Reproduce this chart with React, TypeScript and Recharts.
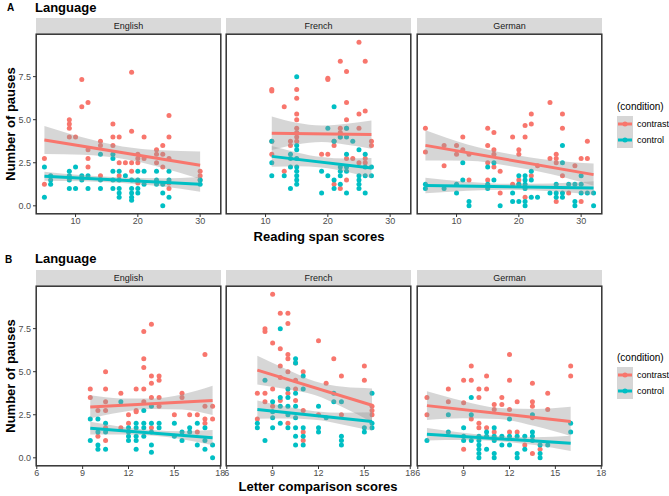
import React from "react"
import { ComposedChart, Scatter, Area, Line, XAxis, YAxis } from "recharts"

const RED = "#F8766D"
const TEAL = "#00BFC4"

type Pt = [number, number]

// ---- Row A: reading span scores ----
const engAContrast: Pt[] = [
  [5, 2.75], [5, 1.25], [9, 5], [9, 4.75], [9, 4.5], [9, 4], [10, 4], [11, 7.33], [11, 5.75], [12, 6],
  [12, 3.25], [12, 2.75], [12, 2.25], [14, 3.75], [14, 3.5], [14, 1.75], [16, 4.75], [16, 4], [16, 3.5], [17, 4],
  [17, 2.5], [17, 1.75], [18, 2.5], [19, 7.75], [19, 4.33], [19, 2.5], [19, 2], [20, 3], [20, 2.75], [20, 2.5],
  [20, 1.33], [21, 4], [21, 2.75], [23, 3.25], [23, 3], [23, 2.5], [24, 3.5], [24, 3], [24, 2.25], [25, 5.25],
  [25, 4], [25, 2.75], [25, 1.33], [25, 1], [30, 2], [30, 1.75], [30, 1.5],
]
const engAControl: Pt[] = [
  [5, 2.25], [5, 0.5], [6, 1.75], [6, 1.5], [6, 1.25], [9, 2], [9, 1.75], [9, 1.5], [9, 1], [10, 2.25],
  [10, 1], [11, 1.75], [11, 1.5], [12, 1.75], [12, 1], [14, 3], [14, 1.5], [14, 1], [16, 3], [16, 2.75],
  [16, 2], [16, 1.5], [16, 1], [17, 2], [17, 1.5], [17, 1], [17, 0.75], [17, 0.5], [18, 1.75], [19, 1.5],
  [19, 1], [19, 0.75], [19, 0.5], [19, 0.33], [20, 2], [20, 1.5], [20, 1], [20, 0.75], [21, 2], [21, 1.25],
  [23, 2], [23, 1.5], [23, 1.25], [24, 1.25], [24, 0.75], [24, 0], [25, 2], [25, 1.5], [25, 0.5], [30, 1.5],
  [30, 1.25],
]
const frAContrast: Pt[] = [
  [11, 6.75], [11, 6.67], [11, 3.75], [11, 3], [13, 5.75], [13, 2], [14, 3.75], [14, 3.5], [15, 6.75], [15, 6.25],
  [15, 5.33], [15, 5], [15, 4.5], [15, 4.25], [15, 4], [15, 3.75], [19, 3], [20, 7.4], [20, 7.33], [20, 3],
  [21, 3.75], [21, 3.5], [21, 1.25], [22, 8.4], [22, 4.5], [22, 4.25], [22, 4], [22, 1], [23, 7.8], [23, 6],
  [23, 5], [23, 4.5], [23, 2.75], [23, 1.5], [24, 2.75], [25, 9.5], [25, 5.33], [25, 4.5], [25, 2.5], [26, 8.4],
  [26, 5.5], [26, 2.75], [26, 2.5], [27, 3.75], [27, 3.5],
]
const frAControl: Pt[] = [
  [11, 3.75], [11, 2.5], [11, 1.75], [13, 1.75], [14, 3], [14, 2.75], [14, 2.25], [14, 1], [15, 7.5], [15, 3.5],
  [15, 3.25], [15, 2.75], [15, 2.25], [15, 2], [15, 1.75], [15, 1.5], [15, 1.25], [19, 2], [19, 0.75], [20, 4.5],
  [20, 1.75], [21, 5.75], [21, 3.75], [21, 1.5], [21, 1], [22, 4], [22, 2.25], [22, 2], [22, 1.75], [22, 1.25],
  [23, 4.5], [23, 4], [23, 3], [23, 2.25], [23, 2], [23, 0.75], [24, 3.75], [25, 3.25], [25, 1.75], [25, 1.5],
  [25, 1.25], [25, 1], [26, 3], [26, 2.25], [26, 1.75], [26, 0.75], [27, 2.25], [27, 1.75],
]
const deAContrast: Pt[] = [
  [5, 4.5], [5, 3.12], [8, 3.5], [8, 2.33], [10, 3.5], [10, 3], [11, 4], [11, 3.25], [12, 3], [12, 1.5],
  [15, 4.5], [15, 3.5], [15, 2.5], [15, 1.5], [16, 4.25], [16, 3.25], [16, 3], [16, 2.25], [17, 2], [17, 0.75],
  [19, 4], [19, 1.25], [20, 3.25], [20, 3], [20, 1.5], [20, 1.25], [21, 4.67], [21, 4], [21, 0.5], [22, 5.33],
  [22, 4.75], [22, 1.75], [23, 2.33], [25, 6], [25, 2.75], [26, 3], [26, 2.75], [26, 2.5], [26, 0.25], [27, 5.33],
  [27, 4.5], [27, 1.75], [28, 0.75], [29, 2.33], [30, 2.75], [30, 0.25], [31, 3.75], [31, 2.75],
]
const deAControl: Pt[] = [
  [5, 1.25], [5, 1], [8, 1], [10, 1.25], [10, 0.75], [11, 2.5], [11, 1.5], [12, 0.25], [12, 0], [15, 2.25],
  [15, 1.25], [15, 1], [16, 2.5], [16, 1.5], [17, 0], [19, 0.75], [19, 0.25], [20, 1.75], [20, 1.25], [20, 0.25],
  [21, 1.75], [21, 1.5], [21, 1.25], [21, 1], [21, 0.25], [21, 0], [22, 2], [22, 1.5], [22, 0.5], [23, 0.5],
  [25, 0.75], [26, 1.25], [26, 0.75], [26, 0.5], [27, 3.5], [27, 2.5], [27, 0.75], [27, 0.5], [28, 1.25], [29, 1.25],
  [29, 0.25], [29, 0], [30, 1.75], [30, 1.25], [30, 0.75], [31, 0.75], [32, 0.75], [32, 0],
]

// ---- Row B: letter comparison scores ----
const engBContrast: Pt[] = [
  [9.5, 4], [9.5, 3.5], [10, 2.75], [10, 1.25], [10.5, 5], [10.5, 4], [10.5, 3.25], [10.5, 2.75], [10.5, 1.75], [10.5, 1],
  [11.5, 3.75], [11.5, 1.75], [12, 2.5], [12, 2], [12.5, 4], [12.5, 2.75], [12.5, 2.67], [13, 7.33], [13, 5.75], [13, 5.25],
  [13, 4], [13, 3.25], [13.5, 7.75], [13.5, 4.75], [13.5, 4.33], [13.5, 3.5], [13.5, 1.75], [14, 4.75], [14, 4.5], [14, 3.5],
  [14, 3], [15, 2.5], [15.5, 3.75], [15.5, 3.5], [16, 2.5], [16.5, 2.5], [16.5, 1.5], [17, 6], [17, 3], [17, 2.25],
  [17, 2], [17.5, 3], [17.5, 2.25],
]
const engBControl: Pt[] = [
  [9.5, 2.25], [9.5, 1], [10, 2.25], [10, 1.5], [10, 0.75], [10, 0.5], [10.5, 2], [10.5, 1.5], [10.5, 0.5], [11.5, 3.25],
  [12, 1.75], [12, 1.5], [12, 1.25], [12, 1], [12.5, 2], [12.5, 1.75], [12.5, 1.25], [12.5, 1], [12.5, 0.5], [13, 2.75],
  [13, 2], [13, 1.75], [13, 1.25], [13.5, 3], [13.5, 2], [13.5, 1.5], [13.5, 0.75], [13.5, 0.33], [14, 2], [14, 1.75],
  [15, 2], [15, 1.25], [15.5, 1.5], [15.5, 1], [16, 1.75], [16, 1.5], [16.5, 2], [16.5, 0.75], [17, 1.75], [17, 1],
  [17, 0.5], [17.5, 0.75], [17.5, 0],
]
const frBContrast: Pt[] = [
  [8, 3.75], [8, 2.25], [8.5, 7.5], [8.5, 7.33], [8.5, 3.75], [8.5, 3.25], [9, 9.5], [9, 6.67], [9, 4], [9, 3],
  [9.5, 8.4], [9.5, 6.33], [9.5, 5.33], [9.5, 4.67], [9.5, 3.33], [10, 8.4], [10, 7.8], [10, 6], [10, 5.75], [10, 5],
  [10, 3.75], [10, 2], [10.5, 5.5], [10.5, 4.5], [10.5, 4], [10.5, 3.33], [11, 5], [11, 2.75], [11, 1.5], [11, 1],
  [12, 6.8], [12, 2.5], [12.5, 4.33], [13, 5.75], [13.5, 4.75], [13.5, 2.5], [15, 5.33], [15, 4.5], [15.5, 3], [15.5, 2.75],
  [15.5, 2.5],
]
const frBControl: Pt[] = [
  [8, 2], [8, 1.75], [8.5, 4.5], [8.5, 1], [9, 3.25], [9, 2.67], [9, 2.33], [9, 1.75], [9.5, 7.5], [9.5, 3.5],
  [9.5, 3], [9.5, 2], [10, 4], [10, 3.5], [10, 3], [10, 2.5], [10, 1.75], [10.5, 5.75], [10.5, 5.5], [10.5, 3.75],
  [10.5, 3], [10.5, 2.33], [10.5, 1.75], [10.5, 1.25], [10.5, 0.75], [11, 4.75], [11, 4], [11, 1.75], [11, 1.25], [11, 0.75],
  [12, 3], [12, 1.75], [12, 1.5], [12.5, 2.33], [13, 3.75], [13, 3.25], [13.5, 3.25], [13.5, 1.25], [13.5, 1], [13.5, 0.75],
  [15, 1.75], [15, 1.5], [15.5, 3.75], [15.5, 2], [15.5, 1.75],
]
const deBContrast: Pt[] = [
  [6.6, 3.5], [6.6, 2.5], [8, 4], [8, 3.25], [9, 4.5], [9, 3.2], [9, 0.5], [9.5, 5.33], [9.5, 4.5], [9.5, 2.25],
  [10, 4], [10, 3.5], [10, 2], [10, 1.75], [10.5, 4.75], [10.5, 4], [10.5, 1.75], [11, 3.1], [11, 2.8], [11, 1.5],
  [11.5, 3.5], [11.5, 3.1], [12, 6], [12, 4.5], [12, 2.8], [12, 1.5], [12.5, 3.25], [12.5, 1.5], [13, 0.75], [13.5, 4.33],
  [13.5, 3.25], [13.5, 3], [13.5, 2.33], [13.5, 0.25], [14, 0.5], [14.5, 3.75], [14.5, 2.8], [16, 5.33], [16, 4.75],
]
const deBControl: Pt[] = [
  [6.6, 1], [8, 2.5], [8, 1.5], [9, 1.75], [9, 1.25], [9, 1], [9.5, 3.5], [9.5, 2.5], [9.5, 1], [10, 1.25],
  [10, 1], [10, 0.75], [10, 0.5], [10, 0.25], [10, 0], [10.5, 1.5], [10.5, 1.25], [10.5, 0.5], [11, 1.75], [11, 1.25],
  [11, 1], [11, 0.25], [11, 0], [11.5, 1.25], [11.5, 0.75], [12, 2.25], [12, 1.25], [12, 0.75], [12.5, 1.25], [12.5, 0.25],
  [12.5, 0], [13, 1.25], [13, 0.5], [13.5, 2.5], [13.5, 1.5], [13.5, 1.25], [13.5, 1], [14, 0.75], [14, 0.25], [14, 0],
  [14.5, 0.75], [16, 2], [16, 1.5],
]

// ---- fitted lines (start, end) and 95% bands ----
const engABandX = [5, 11.25, 17.5, 23.75, 30]
const engAContrastFit = [3.82, 2.36]
const engAContrastBand: Pt[] = [[3.01, 4.63], [2.96, 3.96], [2.73, 3.45], [2.23, 3.23], [1.56, 3.16]]
const engAControlFit = [1.72, 1.25]
const engAControlBand: Pt[] = [[1.46, 1.98], [1.43, 1.77], [1.33, 1.65], [1.14, 1.6], [0.82, 1.68]]

const frABandX = [11, 15, 19, 23, 27]
const frAContrastFit = [4.21, 4.14]
const frAContrastBand: Pt[] = [[3.24, 5.18], [3.56, 4.82], [3.7, 4.66], [3.55, 4.77], [3.32, 4.96]]
const frAControlFit = [2.87, 2.19]
const frAControlBand: Pt[] = [[2.27, 3.47], [2.3, 3.1], [2.23, 2.83], [1.98, 2.74], [1.61, 2.77]]

const deABandX = [5, 11.75, 18.5, 25.25, 32]
const deAContrastFit = [3.51, 1.81]
const deAContrastBand: Pt[] = [[2.63, 4.39], [2.62, 3.56], [2.31, 3.01], [1.83, 2.65], [1.17, 2.45]]
const deAControlFit = [1.18, 1.03]
const deAControlBand: Pt[] = [[0.73, 1.63], [0.88, 1.4], [0.93, 1.28], [0.84, 1.3], [0.64, 1.42]]

const engBBandX = [9.5, 11.5, 13.5, 15.5, 17.5]
const engBContrastFit = [2.95, 3.33]
const engBContrastBand: Pt[] = [[2.29, 3.63], [2.65, 3.45], [2.84, 3.44], [2.8, 3.68], [2.48, 4.18]]
const engBControlFit = [1.72, 1.17]
const engBControlBand: Pt[] = [[1.35, 2.09], [1.35, 1.81], [1.29, 1.61], [1.08, 1.54], [0.73, 1.61]]

const frBBandX = [8, 9.875, 11.75, 13.625, 15.5]
const frBContrastFit = [5.09, 3.05]
const frBContrastBand: Pt[] = [[4.26, 5.92], [3.99, 5.15], [3.64, 4.44], [2.92, 4.12], [2.07, 4.03]]
const frBControlFit = [2.8, 2.11]
const frBControlBand: Pt[] = [[2.27, 3.33], [2.28, 2.98], [2.21, 2.71], [1.92, 2.62], [1.57, 2.65]]

const deBBandX = [6.6, 8.95, 11.3, 13.65, 16]
const deBContrastFit = [3.03, 2.11]
const deBContrastBand: Pt[] = [[2.2, 3.86], [2.3, 3.3], [2.25, 2.89], [1.84, 2.84], [1.26, 2.96]]
const deBControlFit = [1.37, 0.84]
const deBControlBand: Pt[] = [[1.01, 1.73], [1.03, 1.45], [0.96, 1.26], [0.74, 1.2], [0.4, 1.28]]

const languages = ["English", "French", "German"]
const yTicks = [0, 2.5, 5, 7.5]
const yDomain = [-0.475, 9.975]
const xDomainA = [3.65, 33.35]
const xTicksA = [10, 20, 30]
const xDomainB = [5.95, 18.05]
const xTicksB = [6, 9, 12, 15, 18]

const PANEL_LEFTS = [36, 226, 417]
const PW = 185
const PH = 180
const STRIP = 16
const FONT = '"Liberation Sans", Arial, sans-serif'

const toPts = (a: Pt[]) => a.map(([x, y]) => ({ x, y }))

function buildFit(bandX: number[], cBand: Pt[], cFit: number[], kBand: Pt[], kFit: number[]) {
  const last = bandX.length - 1
  return bandX.map((x, i) => ({
    x,
    cRange: cBand[i],
    kRange: kBand[i],
    cFit: i === 0 ? cFit[0] : i === last ? cFit[1] : null,
    kFit: i === 0 ? kFit[0] : i === last ? kFit[1] : null,
  }))
}

const dot = (color: string) => (p: any) => <circle cx={p.cx} cy={p.cy} r={2.5} fill={color} />

const tickStyle = { fontSize: 9, fill: "#4D4D4D", fontFamily: FONT }

// axes shared by the point layer and the smooth layer so both use the same scales
function axes(xDomain: number[], xTicks: number[], yw: number, showTicks: boolean, first: boolean) {
  return [
    <XAxis
      key="x" type="number" dataKey="x" domain={xDomain} ticks={xTicks} allowDataOverflow interval={0}
      height={20} tickSize={3} tickMargin={1} axisLine={false}
      tickLine={showTicks ? { stroke: "#333" } : false}
      tick={showTicks ? tickStyle : false}
    />,
    <YAxis
      key="y" type="number" domain={yDomain} ticks={yTicks} allowDataOverflow interval={0}
      width={yw} tickSize={3} tickMargin={2} axisLine={false}
      tickLine={showTicks ? { stroke: "#333" } : false}
      tick={showTicks && first ? tickStyle : false}
      tickFormatter={(v: number) => v.toFixed(1)}
    />,
  ]
}

function Panel({ left, top, label, first, xDomain, xTicks, contrast, control, fit }: any) {
  const yw = first ? 30 : 6
  const w = PW + yw + 8
  const h = PH + 20
  const margin = { top: 0, right: 8, bottom: 0, left: 0 }
  return (
    <>
      <div
        style={{
          position: "absolute", left, top: top - STRIP, width: PW, height: STRIP,
          background: "#D9D9D9", color: "#1A1A1A", fontSize: 9, lineHeight: `${STRIP}px`, textAlign: "center",
        }}
      >
        {label}
      </div>
      {/* points */}
      <div style={{ position: "absolute", left: left - yw, top }}>
        <ComposedChart width={w} height={h} margin={margin}>
          {axes(xDomain, xTicks, yw, true, first)}
          <Scatter data={toPts(contrast)} dataKey="y" shape={dot(RED)} isAnimationActive={false} />
          <Scatter data={toPts(control)} dataKey="y" shape={dot(TEAL)} isAnimationActive={false} />
        </ComposedChart>
      </div>
      {/* smooth: bands and fitted lines drawn over the points */}
      <div style={{ position: "absolute", left: left - yw, top, pointerEvents: "none" }}>
        <ComposedChart width={w} height={h} data={fit} margin={margin}>
          {axes(xDomain, xTicks, yw, false, first)}
          <Area
            type="monotone" dataKey="cRange" fill="#999999" fillOpacity={0.4} stroke="none"
            isAnimationActive={false} dot={false} activeDot={false}
          />
          <Line
            type="linear" dataKey="cFit" stroke={RED} strokeWidth={3} dot={false} activeDot={false}
            connectNulls isAnimationActive={false}
          />
          <Area
            type="monotone" dataKey="kRange" fill="#999999" fillOpacity={0.4} stroke="none"
            isAnimationActive={false} dot={false} activeDot={false}
          />
          <Line
            type="linear" dataKey="kFit" stroke={TEAL} strokeWidth={3} dot={false} activeDot={false}
            connectNulls isAnimationActive={false}
          />
        </ComposedChart>
      </div>
      <svg
        style={{ position: "absolute", left: left - 1, top: top - 1, pointerEvents: "none" }}
        width={PW + 2} height={PH + 2}
      >
        <rect x={1.2} y={1.2} width={PW - 0.4} height={PH - 0.4} fill="none" stroke="#333" strokeWidth={1.5} />
      </svg>
    </>
  )
}

function Txt({ x, y, size, bold, rotate, children, color = "#000", align = "center" }: any) {
  const tx = align === "left" ? "0" : "-50%"
  return (
    <div
      style={{
        position: "absolute", left: x, top: y, whiteSpace: "nowrap", fontSize: size,
        fontWeight: bold ? 700 : 400, color, lineHeight: 1,
        transform: `translate(${tx}, -50%)${rotate ? ` rotate(${rotate}deg)` : ""}`,
        transformOrigin: align === "left" ? "left center" : "center center",
      }}
    >
      {children}
    </div>
  )
}

function LegendKey({ x, y, color }: any) {
  return (
    <svg style={{ position: "absolute", left: x, top: y - 8 }} width={16} height={16}>
      <rect x={0} y={0} width={16} height={16} fill="#999999" fillOpacity={0.4} />
      <line x1={1} y1={8} x2={15} y2={8} stroke={color} strokeWidth={3} />
      <circle cx={8} cy={8} r={2.5} fill={color} />
    </svg>
  )
}

function Legend({ y }: any) {
  return (
    <>
      <Txt x={617} y={y} size={10} align="left">(condition)</Txt>
      <LegendKey x={617} y={y + 17} color={RED} />
      <Txt x={637} y={y + 17} size={9} align="left">contrast</Txt>
      <LegendKey x={617} y={y + 33} color={TEAL} />
      <Txt x={637} y={y + 33} size={9} align="left">control</Txt>
    </>
  )
}

const rowA = [
  { contrast: engAContrast, control: engAControl, fit: buildFit(engABandX, engAContrastBand, engAContrastFit, engAControlBand, engAControlFit) },
  { contrast: frAContrast, control: frAControl, fit: buildFit(frABandX, frAContrastBand, frAContrastFit, frAControlBand, frAControlFit) },
  { contrast: deAContrast, control: deAControl, fit: buildFit(deABandX, deAContrastBand, deAContrastFit, deAControlBand, deAControlFit) },
]
const rowB = [
  { contrast: engBContrast, control: engBControl, fit: buildFit(engBBandX, engBContrastBand, engBContrastFit, engBControlBand, engBControlFit) },
  { contrast: frBContrast, control: frBControl, fit: buildFit(frBBandX, frBContrastBand, frBContrastFit, frBControlBand, frBControlFit) },
  { contrast: deBContrast, control: deBControl, fit: buildFit(deBBandX, deBContrastBand, deBContrastFit, deBControlBand, deBControlFit) },
]

export default function App() {
  const topA = 34
  const topB = 286
  return (
    <div
      style={{
        position: "absolute", left: 0, top: 0, width: 669, height: 496,
        background: "#fff", fontFamily: FONT, overflow: "hidden",
      }}
    >
      <Txt x={7} y={8} size={10} bold align="left">A</Txt>
      <Txt x={35} y={7} size={13} bold align="left">Language</Txt>
      {rowA.map((p, i) => (
        <Panel key={"a" + i} left={PANEL_LEFTS[i]} top={topA} label={languages[i]} first={i === 0}
          xDomain={xDomainA} xTicks={xTicksA} {...p} />
      ))}
      <Txt x={10} y={topA + PH / 2} size={13} bold rotate={-90}>Number of pauses</Txt>
      <Txt x={319} y={236} size={13} bold>Reading span scores</Txt>
      <Legend y={107} />

      <Txt x={5} y={260} size={10} bold align="left">B</Txt>
      <Txt x={35} y={258} size={13} bold align="left">Language</Txt>
      {rowB.map((p, i) => (
        <Panel key={"b" + i} left={PANEL_LEFTS[i]} top={topB} label={languages[i]} first={i === 0}
          xDomain={xDomainB} xTicks={xTicksB} {...p} />
      ))}
      <Txt x={10} y={topB + PH / 2} size={13} bold rotate={-90}>Number of pauses</Txt>
      <Txt x={318} y={486} size={13} bold>Letter comparison scores</Txt>
      <Legend y={358} />
    </div>
  )
}
